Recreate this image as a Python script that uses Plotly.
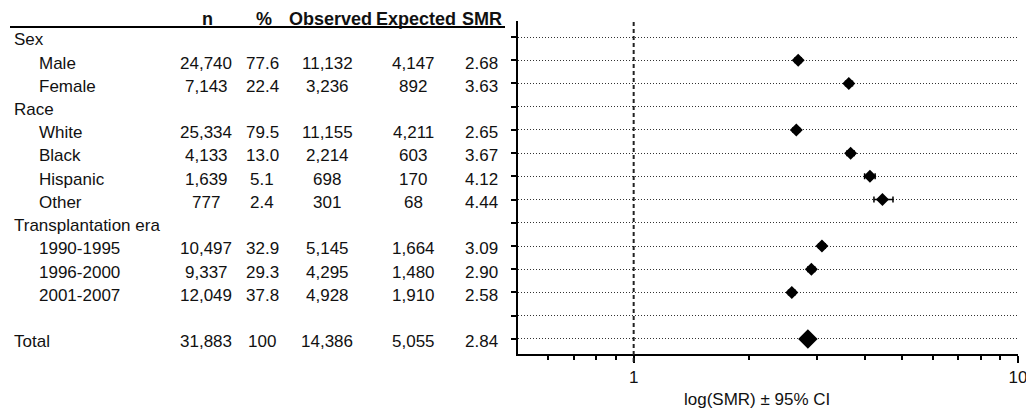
import plotly.graph_objects as go

# ---- table rows (top to bottom) ----
categories = ["Sex", "Male", "Female", "Race", "White", "Black", "Hispanic", "Other",
              "Transplantation era", "1990-1995", "1996-2000", "2001-2007", "", "Total"]
is_sub = [False, True, True, False, True, True, True, True,
          False, True, True, True, False, False]
n_patients = [None, 24740, 7143, None, 25334, 4133, 1639, 777,
              None, 10497, 9337, 12049, None, 31883]
percent = [None, "77.6", "22.4", None, "79.5", "13.0", "5.1", "2.4",
           None, "32.9", "29.3", "37.8", None, "100"]
observed = [None, 11132, 3236, None, 11155, 2214, 698, 301,
            None, 5145, 4295, 4928, None, 14386]
expected = [None, 4147, 892, None, 4211, 603, 170, 68,
            None, 1664, 1480, 1910, None, 5055]
smr = [None, 2.68, 3.63, None, 2.65, 3.67, 4.12, 4.44,
       None, 3.09, 2.90, 2.58, None, 2.84]
ci_low = [None, 2.63, 3.56, None, 2.60, 3.59, 3.99, 4.22,
          None, 3.03, 2.84, 2.53, None, 2.80]
ci_high = [None, 2.73, 3.71, None, 2.70, 3.75, 4.25, 4.73,
           None, 3.15, 2.96, 2.63, None, 2.88]
header = ["n", "%", "Observed", "Expected", "SMR"]
axis_ticks = [1, 10]
axis_ticktext = ["1", "10"]
minor_ticks = [0.6, 0.7, 0.8, 0.9, 2, 3, 4, 5, 6, 7, 8, 9]
x_title = "log(SMR) ± 95% CI"

W, H = 1026, 413
ML, MR, MT, MB = 8, 8, 21, 59
PW = W - ML - MR
PH = H - MT - MB
FONT = "Liberation Sans, Arial, Helvetica, sans-serif"
INK = "#111111"


def px(x):
    """Horizontal pixel position -> paper coordinate."""
    return (x - ML) / PW


def py(y):
    """Vertical pixel position (from top) -> paper coordinate."""
    return (H - MB - y) / PH


rows = list(range(len(categories)))
TEXT_DY = 0.12  # text sits slightly below each row's line

fig = go.Figure()

# individual estimates
idx = [i for i in rows if smr[i] is not None and categories[i] != "Total"]
fig.add_trace(go.Scatter(
    x=[smr[i] for i in idx], y=idx, mode="markers",
    marker=dict(symbol="diamond", size=10, color="black"),
    error_x=dict(type="data", symmetric=False,
                 array=[ci_high[i] - smr[i] for i in idx],
                 arrayminus=[smr[i] - ci_low[i] for i in idx],
                 color="black", thickness=1.5, width=3),
    showlegend=False, hoverinfo="skip"))

# overall estimate
tot = [i for i in rows if categories[i] == "Total"]
fig.add_trace(go.Scatter(
    x=[smr[i] for i in tot], y=tot, mode="markers",
    marker=dict(symbol="diamond", size=15, color="black"),
    error_x=dict(type="data", symmetric=False,
                 array=[ci_high[i] - smr[i] for i in tot],
                 arrayminus=[smr[i] - ci_low[i] for i in tot],
                 color="black", thickness=1.5, width=3),
    showlegend=False, hoverinfo="skip"))

ann = []
col_x = [206, 262, 327, 413, 481]
head_x = [207, 264, 330, 416, 482]

# column headers
for h, cx in zip(header, head_x):
    ann.append(dict(text=f"<b>{h}</b>", x=px(cx), xref="paper", y=py(18.5), yref="paper",
                    xanchor="center", yanchor="middle", showarrow=False,
                    font=dict(family=FONT, size=18, color=INK)))


def fmt_int(v):
    return "" if v is None else f"{v:,}"


for i in rows:
    y = i + TEXT_DY
    if categories[i]:
        ann.append(dict(text=categories[i], x=px(37 if is_sub[i] else 12), xref="paper",
                        y=y, yref="y", xanchor="left", yanchor="middle", showarrow=False,
                        font=dict(family=FONT, size=17, color=INK)))
    cells = [fmt_int(n_patients[i]), percent[i] or "", fmt_int(observed[i]),
             fmt_int(expected[i]), "" if smr[i] is None else f"{smr[i]:.2f}"]
    for txt, cx in zip(cells, col_x):
        if txt:
            ann.append(dict(text=txt, x=px(cx), xref="paper", y=y, yref="y",
                            xanchor="center", yanchor="middle", showarrow=False,
                            font=dict(family=FONT, size=17, color=INK)))

# axis title
ann.append(dict(text=x_title, x=px(757), xref="paper", y=py(399),
                yref="paper", xanchor="center", yanchor="middle", showarrow=False,
                font=dict(family=FONT, size=17, color=INK)))

shapes = [
    # rule under the table header
    dict(type="line", xref="paper", yref="paper", x0=px(10), x1=px(505),
         y0=py(27), y1=py(27), line=dict(color="black", width=2)),
    # reference line at SMR = 1
    dict(type="line", xref="x", yref="paper", x0=1, x1=1, y0=py(362), y1=1,
         line=dict(color="#222222", width=2, dash="4px,3px")),
]

fig.update_layout(
    width=W, height=H,
    margin=dict(l=ML, r=MR, t=MT, b=MB, autoexpand=False),
    paper_bgcolor="white", plot_bgcolor="white",
    annotations=ann, shapes=shapes,
    xaxis=dict(type="log", range=[-0.30103, 1.0002], domain=[px(518), 1],
               automargin=False,
               showline=True, linecolor="black", linewidth=2,
               ticks="outside", ticklen=7, tickwidth=1.5, tickcolor="black",
               tickvals=axis_ticks, ticktext=axis_ticktext, ticklabeloverflow="allow",
               tickfont=dict(family=FONT, size=17, color=INK),
               minor=dict(tickvals=minor_ticks, ticks="outside", ticklen=4,
                          tickwidth=1.5, tickcolor="black", showgrid=False),
               showgrid=False, zeroline=False, fixedrange=True),
    yaxis=dict(range=[13.65, -0.69], tickvals=rows, showticklabels=False,
               automargin=False,
               showline=True, linecolor="black", linewidth=2,
               ticks="outside", ticklen=5, tickwidth=1.5, tickcolor="black",
               showgrid=True, gridcolor="#333333", gridwidth=1, griddash="1px,2px",
               zeroline=False, fixedrange=True),
)

fig.write_html("out.html")
